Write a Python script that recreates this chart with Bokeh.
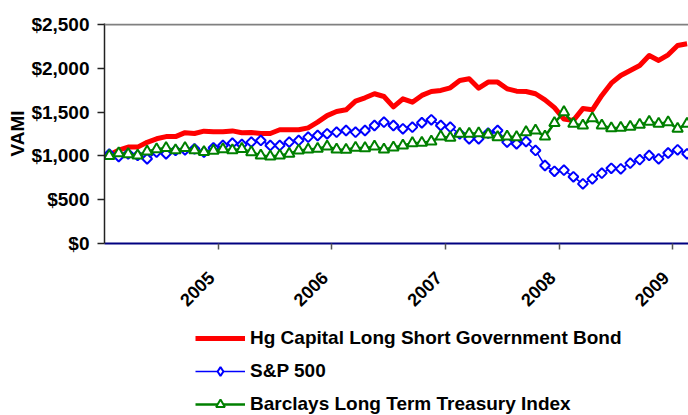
import math
from bokeh.plotting import figure
from bokeh.layouts import column
from bokeh.models import (FixedTicker, NumeralTickFormatter, Legend, LegendItem,
                          Span, Range1d, ColumnDataSource)
from bokeh.embed import file_html
from bokeh.resources import INLINE

# ---- data (monthly VAMI, Jan 2004 onward) ----
year_labels = ["2005", "2006", "2007", "2008", "2009"]
year_first_month = [12, 24, 36, 48, 60]
y_ticks = [0, 500, 1000, 1500, 2000, 2500]
series_names = ["Hg Capital Long Short Government Bond", "S&P 500",
                "Barclays Long Term Treasury Index"]

hg_capital = [1010, 1065, 1100, 1100, 1155, 1195, 1220, 1220, 1265, 1255,
              1282, 1275, 1275, 1285, 1265, 1268, 1256, 1256, 1298, 1298,
              1298, 1320, 1385, 1460, 1507, 1526, 1625, 1663, 1709, 1678,
              1560, 1651, 1613, 1690, 1735, 1747, 1777, 1861, 1880, 1773,
              1842, 1842, 1766, 1739, 1735, 1709, 1640, 1550, 1420, 1405,
              1540, 1526, 1690, 1830, 1918, 1975, 2032, 2146, 2089, 2154,
              2260, 2280]
sp500 = [1020, 993, 1024, 1005, 967, 1043, 1024, 1062, 1069, 1081,
         1043, 1092, 1119, 1145, 1130, 1157, 1176, 1119, 1119, 1157,
         1176, 1214, 1233, 1252, 1271, 1290, 1271, 1290, 1347, 1385,
         1347, 1309, 1328, 1378, 1412, 1347, 1328, 1252, 1195, 1195,
         1259, 1290, 1157, 1138, 1164, 1062, 890, 824, 837, 761,
         681, 738, 803, 858, 852, 917, 957, 1005, 966, 1033,
         1069, 1024]
barclays = [1000, 1030, 1020, 1005, 1050, 1075, 1090, 1065, 1090, 1065,
            1045, 1060, 1075, 1065, 1080, 1043, 1005, 993, 1005, 1024,
            1062, 1073, 1081, 1107, 1073, 1069, 1092, 1088, 1107, 1073,
            1095, 1119, 1145, 1149, 1164, 1221, 1206, 1252, 1252, 1259,
            1244, 1214, 1221, 1214, 1271, 1290, 1221, 1375, 1499, 1366,
            1347, 1430, 1347, 1315, 1321, 1332, 1356, 1390, 1366, 1383,
            1309, 1366]

# category centres (between-category tick marks)
xs = [i + 0.5 for i in range(len(hg_capital))]
src = ColumnDataSource(dict(x=xs, hg=hg_capital, sp=sp500, bc=barclays))

FONT = "Liberation Sans"
LABEL_SHIFT = 0.74  # rotated labels sit slightly left of the tick marks
RED, BLUE, GREEN = "#FF0000", "#0000FF", "#008000"

p = figure(width=688, height=323, output_backend="svg", toolbar_location=None,
           x_range=Range1d(0, 61.65), y_range=Range1d(0, 2511),
           min_border_left=104, min_border_right=0, min_border_top=23,
           min_border_bottom=80)
p.outline_line_color = None
p.xgrid.visible = False
p.ygrid.visible = False
p.background_fill_color = "white"
p.border_fill_color = "white"

p.add_layout(Span(location=2500, dimension="width", line_color="#808080", line_width=2))

# x axis: tick marks at year boundaries (minor), labels slightly to the left (major)
label_pos = [k - LABEL_SHIFT for k in year_first_month]
p.xaxis.ticker = FixedTicker(ticks=label_pos, minor_ticks=year_first_month)
p.xaxis.major_label_overrides = {k: v for k, v in zip(label_pos, year_labels)}
p.xaxis.major_label_orientation = math.pi / 4
p.xaxis.axis_line_color = "#000080"
p.xaxis.axis_line_width = 2
p.xaxis.major_tick_line_color = None
p.xaxis.major_tick_out = 0
p.xaxis.major_tick_in = 0
p.xaxis.minor_tick_out = 6
p.xaxis.minor_tick_in = 0
p.xaxis.minor_tick_line_color = "#555555"
p.xaxis.minor_tick_line_width = 1.5
p.xaxis.major_label_text_font = FONT
p.xaxis.major_label_text_font_style = "bold"
p.xaxis.major_label_text_font_size = "18px"
p.xaxis.major_label_text_color = "black"
p.xaxis.major_label_standoff = 25

# y axis
p.yaxis.ticker = FixedTicker(ticks=y_ticks)
p.yaxis.formatter = NumeralTickFormatter(format="$0,0")
p.yaxis.axis_label = "VAMI"
p.yaxis.axis_label_text_font = FONT
p.yaxis.axis_label_text_font_style = "bold"
p.yaxis.axis_label_text_font_size = "19px"
p.yaxis.axis_label_text_color = "black"
p.yaxis.axis_label_standoff = 0
p.yaxis.axis_line_color = "#222222"
p.yaxis.axis_line_width = 1.5
p.yaxis.major_tick_out = 7
p.yaxis.major_tick_in = 0
p.yaxis.major_tick_line_color = "#222222"
p.yaxis.major_tick_line_width = 1.5
p.yaxis.minor_tick_line_color = None
p.yaxis.major_label_text_font = FONT
p.yaxis.major_label_text_font_style = "bold"
p.yaxis.major_label_text_font_size = "19px"
p.yaxis.major_label_text_color = "black"
p.yaxis.major_label_standoff = 8

# series
line_styles = [dict(line_color=RED, line_width=5, line_join="round"),
               dict(line_color=BLUE, line_width=1.5),
               dict(line_color=GREEN, line_width=2.5)]
diamond_style = dict(marker="square", angle=math.pi / 4, size=7,
                     line_color=BLUE, fill_color="white", line_width=2)
triangle_style = dict(marker="triangle", size=10.5, line_color=GREEN,
                      fill_color="white", line_width=2)

p.line("x", "hg", source=src, **line_styles[0])
p.line("x", "sp", source=src, **line_styles[1])
p.scatter("x", "sp", source=src, **diamond_style)
p.line("x", "bc", source=src, **line_styles[2])
p.scatter("x", "bc", source=src, **triangle_style)

# ---- legend strip below the chart (same series, ranges keep them out of view) ----
lg = figure(width=688, height=92, output_backend="svg", toolbar_location=None,
            x_range=Range1d(0, 1), y_range=Range1d(0, 1),
            x_axis_location=None, y_axis_location=None,
            min_border_left=0, min_border_right=0, min_border_top=0, min_border_bottom=0)
lg.outline_line_color = None
lg.xgrid.visible = False
lg.ygrid.visible = False
legend_diamond = dict(marker="diamond", size=11, line_color=BLUE,
                      fill_color="white", line_width=2)
l1 = lg.line("x", "hg", source=src, **line_styles[0])
l2 = lg.line("x", "sp", source=src, **line_styles[1])
m2 = lg.scatter("x", "sp", source=src, **legend_diamond)
l3 = lg.line("x", "bc", source=src, **line_styles[2])
m3 = lg.scatter("x", "bc", source=src, **triangle_style)

legend = Legend(items=[
    LegendItem(label=series_names[0], renderers=[l1]),
    LegendItem(label=series_names[1], renderers=[l2, m2]),
    LegendItem(label=series_names[2], renderers=[l3, m3]),
], location=(91, 0), orientation="vertical", glyph_width=50, glyph_height=22,
    label_height=22, spacing=11, padding=0, margin=0, border_line_color=None,
    background_fill_alpha=0, label_text_font=FONT, label_text_font_style="bold",
    label_text_font_size="19px", label_text_color="black", label_standoff=5)
lg.add_layout(legend)

layout = column(p, lg, spacing=0)
open("out.html", "w").write(file_html(layout, INLINE))
